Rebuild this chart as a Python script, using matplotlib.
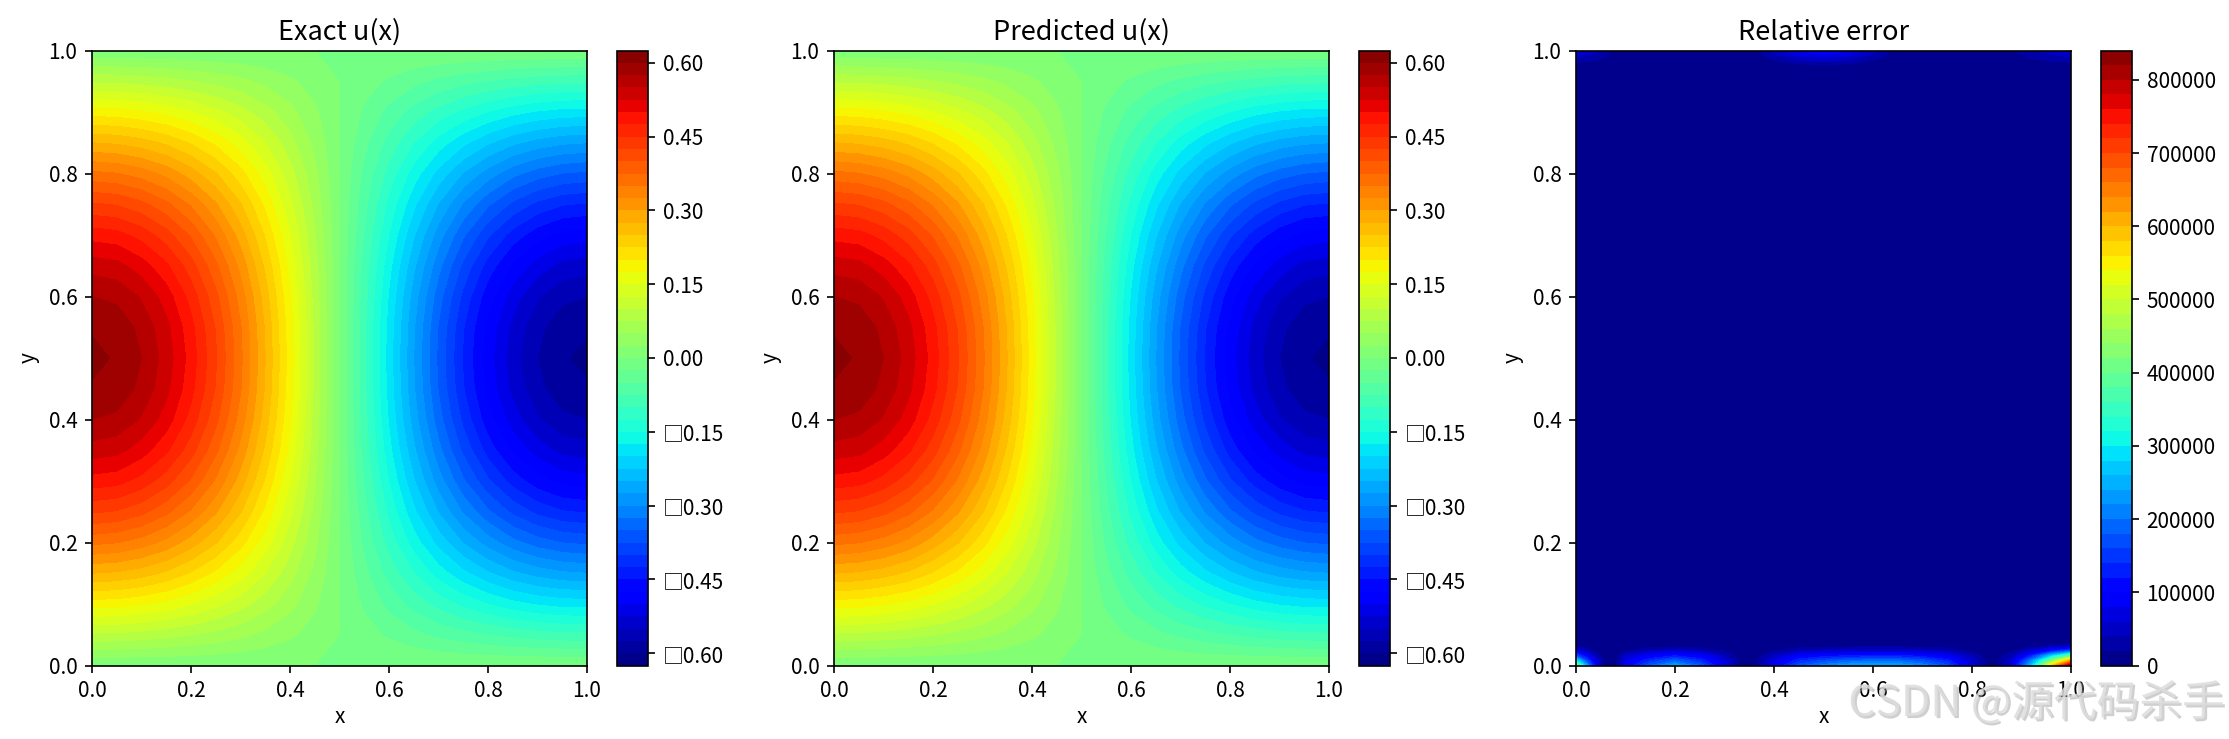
import numpy as np
import matplotlib
matplotlib.use('Agg')
import matplotlib.pyplot as plt
import matplotlib.patheffects as pe

plt.rcParams['font.family'] = ['Noto Sans CJK SC', 'DejaVu Sans']

W, H = 2229, 739

# u(x), one quadrant: x 0..0.5 (columns), y 0..0.5 (rows).
# the plot is mirrored in y and flips sign across x=0.5
quad_x = [0.0, 0.05, 0.1, 0.15, 0.2, 0.25, 0.3, 0.35, 0.4, 0.45, 0.5]
quad_y = [0.0, 0.05, 0.1, 0.15, 0.2, 0.25, 0.3, 0.35, 0.4, 0.45, 0.5]
quad_u = [
    [0.000, 0.000, 0.000, 0.000, 0.000, 0.000, 0.000, 0.000, 0.000, 0.000, 0.0],
    [0.095, 0.094, 0.090, 0.084, 0.076, 0.067, 0.056, 0.043, 0.029, 0.015, 0.0],
    [0.187, 0.185, 0.178, 0.167, 0.151, 0.132, 0.110, 0.085, 0.058, 0.029, 0.0],
    [0.275, 0.271, 0.261, 0.245, 0.222, 0.194, 0.162, 0.125, 0.085, 0.043, 0.0],
    [0.356, 0.351, 0.338, 0.317, 0.287, 0.252, 0.209, 0.162, 0.110, 0.056, 0.0],
    [0.428, 0.423, 0.407, 0.381, 0.346, 0.303, 0.252, 0.194, 0.132, 0.067, 0.0],
    [0.489, 0.484, 0.465, 0.436, 0.396, 0.346, 0.288, 0.222, 0.151, 0.077, 0.0],
    [0.539, 0.533, 0.512, 0.480, 0.436, 0.381, 0.317, 0.245, 0.167, 0.085, 0.0],
    [0.575, 0.569, 0.547, 0.513, 0.465, 0.407, 0.339, 0.262, 0.178, 0.090, 0.0],
    [0.598, 0.591, 0.568, 0.532, 0.483, 0.423, 0.352, 0.272, 0.185, 0.094, 0.0],
    [0.605, 0.598, 0.575, 0.539, 0.489, 0.428, 0.356, 0.275, 0.187, 0.095, 0.0],
]

# relative error, only the strips along the bottom and top edges are non zero
err_x = [0.0, 0.02, 0.04, 0.06, 0.08, 0.1, 0.15, 0.2, 0.25, 0.3, 0.33, 0.35, 0.37, 0.4,
         0.45, 0.5, 0.55, 0.6, 0.65, 0.7, 0.75, 0.8, 0.84, 0.88, 0.92, 0.96, 1.0]
err_y = [0.0, 0.008, 0.016, 0.024, 0.032, 0.04, 0.96, 0.968, 0.976, 0.984, 0.992, 1.0]
err_rows = [
    [420000, 250000, 100000, 0, 15000, 90000, 180000, 240000, 180000, 80000, 20000, 0, 30000, 90000,
     170000, 210000, 235000, 245000, 240000, 215000, 165000, 70000, 0, 70000, 270000, 570000, 830000],
    [300000, 170000, 70000, 0, 12000, 75000, 140000, 185000, 140000, 65000, 15000, 0, 24000, 70000,
     135000, 165000, 185000, 190000, 190000, 170000, 130000, 55000, 0, 55000, 210000, 420000, 620000],
    [170000, 100000, 40000, 0, 8000, 50000, 95000, 120000, 95000, 42000, 9000, 0, 15000, 45000,
     90000, 110000, 120000, 125000, 125000, 110000, 85000, 36000, 0, 35000, 130000, 270000, 400000],
    [70000, 40000, 16000, 0, 3000, 20000, 40000, 50000, 40000, 18000, 4000, 0, 6000, 18000,
     38000, 46000, 50000, 52000, 52000, 46000, 36000, 15000, 0, 15000, 55000, 115000, 170000],
    [15000, 9000, 3000, 0, 0, 4000, 8000, 11000, 8000, 4000, 0, 0, 1000, 4000,
     8000, 10000, 11000, 11000, 11000, 10000, 8000, 3000, 0, 3000, 12000, 25000, 40000],
    [0] * 27,
    [0] * 27,
    [0] * 27,
    [9000, 8000, 7000, 4000, 2000, 0, 0, 0, 0, 0, 0, 1000, 3000, 7000,
     13000, 15000, 13000, 7000, 2000, 0, 0, 0, 0, 3000, 5000, 8000, 9000],
    [27000, 25000, 20000, 13000, 5000, 0, 0, 0, 0, 0, 0, 2000, 9000, 20000,
     38000, 45000, 38000, 20000, 4000, 0, 0, 0, 1000, 8000, 16000, 22000, 27000],
    [45000, 41000, 34000, 22000, 9000, 0, 0, 0, 0, 0, 0, 4000, 15000, 34000,
     64000, 75000, 64000, 34000, 8000, 0, 0, 0, 2000, 13000, 26000, 38000, 45000],
    [60000, 55000, 45000, 30000, 12000, 0, 0, 0, 0, 0, 0, 5000, 20000, 45000,
     85000, 100000, 85000, 45000, 10000, 0, 0, 0, 3000, 18000, 35000, 50000, 60000],
]

titles = ['Exact u(x)', 'Predicted u(x)', 'Relative error']
u_ticks = [-0.60, -0.45, -0.30, -0.15, 0.00, 0.15, 0.30, 0.45, 0.60]
u_tick_labels = ['\u25a10.60', '\u25a10.45', '\u25a10.30', '\u25a10.15', '0.00', '0.15', '0.30', '0.45', '0.60']

# mirror the quadrant to the whole square
q = np.array(quad_u)
left = np.vstack([q, q[-2::-1]])
u_full = np.hstack([left, -left[:, -2::-1]])
qx = np.array(quad_x)
qy = np.array(quad_y)
u_x = np.concatenate([qx, 1 - qx[-2::-1]])
u_y = np.concatenate([qy, 1 - qy[-2::-1]])

fig = plt.figure(figsize=(W / 150, H / 150), dpi=150)

ax_left = [92, 834, 1576]
cb_left = [617, 1359, 2101]
ax_w, cb_w = 495, 31
top, bottom = 50.5, 665.5


def px_axes(x, w):
    return fig.add_axes([x / W, 1 - bottom / H, w / W, (bottom - top) / H])


for i in range(3):
    ax = px_axes(ax_left[i], ax_w)
    cax = px_axes(cb_left[i], cb_w)
    if i < 2:
        cf = ax.contourf(u_x, u_y, u_full, levels=50, cmap='jet')
    else:
        cf = ax.contourf(err_x, err_y, err_rows, levels=50, cmap='jet')
    cb = fig.colorbar(cf, cax=cax)
    if i < 2:
        cb.set_ticks(u_ticks, labels=u_tick_labels)
    ax.set_title(titles[i], fontsize=13, pad=5)
    ax.set_xlabel('x', labelpad=2)
    ax.set_ylabel('y')
    ax.set_xticks([0, 0.2, 0.4, 0.6, 0.8, 1.0])
    ax.set_yticks([0, 0.2, 0.4, 0.6, 0.8, 1.0])

fig.text(2225 / W, 1 - 704 / H, 'CSDN @源代码杀手', ha='right', va='center', fontsize=20.5,
         color='#dcdcdc', alpha=0.85,
         path_effects=[pe.withSimplePatchShadow(offset=(1, -1), shadow_rgbFace='#a0a0a0', alpha=0.5)])

plt.savefig('out.png', dpi=150)
